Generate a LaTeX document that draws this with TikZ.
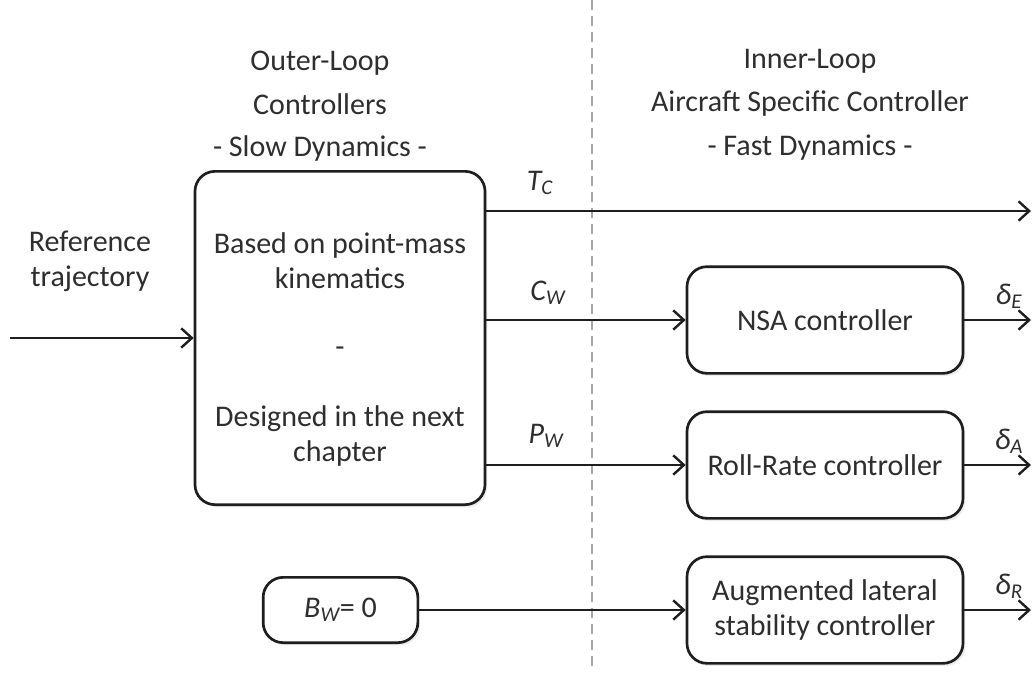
\documentclass[tikz,border=0pt]{standalone}
\usepackage{fontspec}
\setmainfont{Carlito}
\usetikzlibrary{arrows.meta,shadows}
\definecolor{ink}{HTML}{1E1E1E}
\definecolor{txt}{HTML}{2E2E2E}
\begin{document}
\begin{tikzpicture}[x=0.75pt,y=-0.75pt,
  every node/.style={font=\fontsize{22.5}{26.5}\selectfont, text=txt},
  blk/.style={draw=ink, line width=2pt, rounded corners=15pt, fill=white, inner sep=0pt,
    drop shadow={shadow xshift=1.8pt,shadow yshift=-2pt,opacity=0.15}},
  conn/.style={line width=1.8pt, draw=ink, -{Straight Barb[length=8pt,width=14.5pt,line width=1.8pt]}},
  lbl/.style={font=\fontsize{22.5}{26}\selectfont\itshape, inner sep=1pt},
  sep/.style={draw=gray!70, line width=1.1pt, dash pattern=on 7.5pt off 4.5pt},
]
\useasboundingbox (0,0) rectangle (1032,672);
% separator
\coordinate (dtop) at (592,0);
\coordinate (dbot) at (592,672);
\draw[sep] (dtop) -- (dbot);
% headings
\node[align=center] (outer) at (320,83) {Outer-Loop\\[6pt]Controllers};
\node (slow) at (320,148) {- Slow Dynamics -};
\node[align=center] (inner) at (810,83) {Inner-Loop\\[6pt]Aircraft Specific Controller};
\node (fast) at (810,148) {- Fast Dynamics -};
% reference text
\node[align=center] (reft) at (90,261) {Reference\\trajectory};
% outer loop box
\node[blk, minimum width=217.5pt, minimum height=250pt] (big) at (340,338) {};
\node[align=center] (bigtop) at (340,261) {Based on point-mass\\kinematics};
\node (bigdash) at (340,352) {-};
\node[align=center] (bigbot) at (340,436) {Designed in the next\\chapter};
% B_W box
\node[blk, minimum width=116pt, minimum height=49pt] (bw) at (340.5,610) {{\itshape B\textsubscript{W}}= 0};
% inner loop boxes
\node[blk, minimum width=207pt, minimum height=80pt] (nsa) at (825,320) {NSA controller};
\node[blk, minimum width=207pt, minimum height=80pt] (roll) at (825,465) {Roll-Rate controller};
\node[blk, minimum width=207pt, minimum height=80pt, align=center] (aug) at (825,610) {Augmented lateral\\stability controller};
% connectors
\coordinate (in) at (10,338);
\coordinate (tcend) at (1031,211);
\draw[conn] (in) -- (big.west);
\draw[conn] (big.east |- tcend) -- (tcend);
\draw[conn] (big.east |- nsa.west) -- (nsa.west);
\draw[conn] (big.east |- roll.west) -- (roll.west);
\draw[conn] (bw.east) -- (aug.west);
\draw[conn] (nsa.east) -- (nsa.east -| tcend);
\draw[conn] (roll.east) -- (roll.east -| tcend);
\draw[conn] (aug.east) -- (aug.east -| tcend);
% labels
\node[lbl] (tc) at (540,183) {T\textsubscript{C}};
\node[lbl] (cw) at (548,293) {C\textsubscript{W}};
\node[lbl] (pw) at (546,436) {P\textsubscript{W}};
\node[lbl] (de) at (1009,296) {δ\textsubscript{E}};
\node[lbl] (da) at (1009,441) {δ\textsubscript{A}};
\node[lbl] (dr) at (1009,586) {δ\textsubscript{R}};
\end{tikzpicture}
\end{document}
